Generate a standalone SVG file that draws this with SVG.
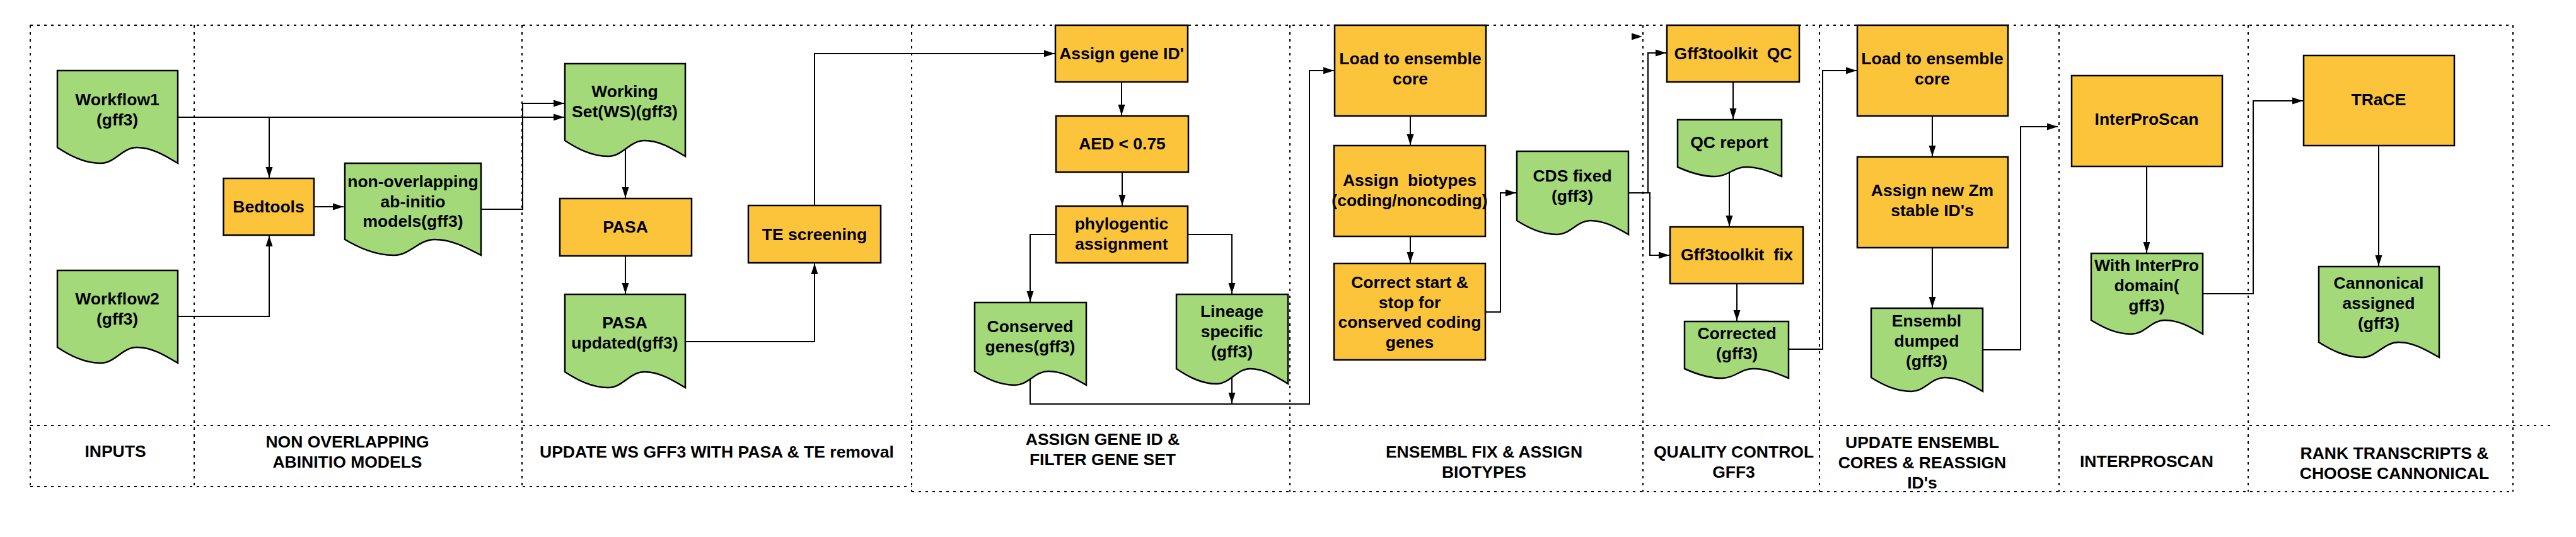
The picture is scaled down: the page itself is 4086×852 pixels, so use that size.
<svg xmlns="http://www.w3.org/2000/svg" width="4086" height="852" viewBox="0 0 4086 852">
<style>
.lane{fill:none;stroke:#000;stroke-width:2;stroke-dasharray:4 7}
.proc{fill:#FCC43A;stroke:#000;stroke-width:2.5}
.doc{fill:#A3D978;stroke:#000;stroke-width:2.5}
.t{font-family:"Liberation Sans",Arial,sans-serif;font-weight:bold;font-size:26.5px;text-anchor:middle;fill:#000}
.c{fill:none;stroke:#000;stroke-width:2}
.c.a{marker-end:url(#arr)}
.ah{fill:#000}
</style>
<defs>
<marker id="arr" markerUnits="userSpaceOnUse" markerWidth="18" markerHeight="12" refX="17" refY="6" orient="auto"><path d="M0,0.5 L17,6 L0,11.5 Z" fill="#000"/></marker>
</defs>
<rect width="4086" height="852" fill="#fff"/>
<g id="lanes">
<path class="lane" d="M48,40 H3986 M48,772 H1446 M1446,780 H3986 M48,675 H4046"/>
<path class="lane" d="M48,40 V772 M308,40 V772 M828,40 V772 M1446,40 V780 M2046,40 V780 M2606,40 V780 M2886,40 V780 M3266,40 V780 M3566,40 V780 M3986,40 V780"/>
<text class="t" x="183" y="725">INPUTS</text>
<text class="t" x="551" y="710">NON OVERLAPPING<tspan x="551" dy="32">ABINITIO MODELS</tspan></text>
<text class="t" x="1137" y="726">UPDATE WS GFF3 WITH PASA &amp; TE removal</text>
<text class="t" x="1749" y="706">ASSIGN GENE ID &amp;<tspan x="1749" dy="32">FILTER GENE SET</tspan></text>
<text class="t" x="2354" y="726">ENSEMBL FIX &amp; ASSIGN<tspan x="2354" dy="32">BIOTYPES</tspan></text>
<text class="t" x="2750" y="726">QUALITY CONTROL<tspan x="2750" dy="32">GFF3</tspan></text>
<text class="t" x="3049" y="711">UPDATE ENSEMBL<tspan x="3049" dy="32">CORES &amp; REASSIGN</tspan><tspan x="3049" dy="32">ID's</tspan></text>
<text class="t" x="3405" y="741">INTERPROSCAN</text>
<text class="t" x="3798" y="728">RANK TRANSCRIPTS &amp;<tspan x="3798" dy="32">CHOOSE CANNONICAL</tspan></text>
</g>
<g id="connectors">
<path class="c a" d="M282,186 H427 V282"/>
<path class="c a" d="M282,186 H895"/>
<path class="c a" d="M282,502 H427 V374"/>
<path class="c a" d="M498,328 H545"/>
<path class="c a" d="M763,332 H829 V164 H895"/>
<path class="c a" d="M992,236 V314"/>
<path class="c a" d="M992,406 V466"/>
<path class="c a" d="M1087,542 H1292 V418"/>
<path class="c a" d="M1292,326 V85 H1673"/>
<path class="c a" d="M1779,130 V183"/>
<path class="c a" d="M1780,273 V326"/>
<path class="c a" d="M1675,372 H1634 V479"/>
<path class="c a" d="M1884,372 H1954 V466"/>
<polygon class="ah" points="1867,366 1884,372 1867,378"/>
<path class="c" d="M1634,600 V641 H2077 V112 H2116"/>
<path class="c a" d="M1954,598 V640"/>
<path class="c a" d="M2077,112 H2116"/>
<path class="c a" d="M2237,184 V230"/>
<path class="c a" d="M2237,375 V417"/>
<path class="c a" d="M2356,495 H2380 V306 H2405"/>
<path class="c a" d="M2583,306 H2614 V84 H2643"/>
<path class="c a" d="M2583,306 H2617 V405 H2648"/>
<polygon class="ah" points="2588,52.5 2605,58 2588,63.5"/>
<path class="c a" d="M2749,130 V189"/>
<path class="c a" d="M2743,273 V359"/>
<path class="c a" d="M2755,450 V509"/>
<path class="c a" d="M2837,554 H2891 V112 H2945"/>
<path class="c a" d="M3065,184 V248"/>
<path class="c a" d="M3065,393 V488"/>
<path class="c a" d="M3145,555 H3205 V201 H3264"/>
<path class="c a" d="M3405,264 V401"/>
<path class="c a" d="M3494,466 H3574 V160 H3653"/>
<path class="c a" d="M3773,231 V422"/>
</g>
<g id="workflow1"><path class="doc" d="M91,112 H282 V259 C259.1,245.3 240,234 217.1,234 C194.1,234 182.7,259 159.8,259 C133,259 110.1,246.5 91,234 Z"/><text class="t" x="186" y="167">Workflow1<tspan x="186" dy="32">(gff3)</tspan></text></g>
<g id="workflow2"><path class="doc" d="M91,429 H282 V576 C259.1,562.3 240,551 217.1,551 C194.1,551 182.7,576 159.8,576 C133,576 110.1,563.5 91,551 Z"/><text class="t" x="186" y="483">Workflow2<tspan x="186" dy="32">(gff3)</tspan></text></g>
<g id="bedtools"><rect class="proc" x="354.5" y="283" width="143.5" height="90"/><text class="t" x="426" y="337">Bedtools</text></g>
<g id="nonoverlap"><path class="doc" d="M547,259 H763 V405 C737.1,391.3 715.5,380 689.6,380 C663.6,380 650.7,405 624.8,405 C594.5,405 568.6,392.5 547,380 Z"/><text class="t" x="655" y="297">non-overlapping<tspan x="655" dy="31.5">ab-initio</tspan><tspan x="655" dy="31.5">models(gff3)</tspan></text></g>
<g id="workingset"><path class="doc" d="M896,101 H1087 V248 C1064.1,234.3 1045,223 1022.1,223 C999.1,223 987.7,248 964.8,248 C938,248 915.1,235.5 896,223 Z"/><text class="t" x="991" y="154">Working<tspan x="991" dy="32">Set(WS)(gff3)</tspan></text></g>
<g id="pasa"><rect class="proc" x="888" y="315" width="209" height="91"/><text class="t" x="992" y="369">PASA</text></g>
<g id="pasaupdated"><path class="doc" d="M896,467 H1087 V615 C1064.1,601.3 1045,590 1022.1,590 C999.1,590 987.7,615 964.8,615 C938,615 915.1,602.5 896,590 Z"/><text class="t" x="991" y="521">PASA<tspan x="991" dy="32">updated(gff3)</tspan></text></g>
<g id="tescreening"><rect class="proc" x="1187" y="326" width="210" height="91"/><text class="t" x="1292" y="381">TE screening</text></g>
<g id="assigngeneid"><rect class="proc" x="1674" y="40" width="210" height="90"/><text class="t" x="1779" y="94">Assign gene ID'</text></g>
<g id="aed"><rect class="proc" x="1675" y="184" width="210" height="89"/><text class="t" x="1780" y="237">AED &lt; 0.75</text></g>
<g id="phylo"><rect class="proc" x="1675" y="327" width="209" height="90"/><text class="t" x="1779" y="364">phylogentic<tspan x="1779" dy="32">assignment</tspan></text></g>
<g id="conserved"><path class="doc" d="M1546,480 H1723 V611 C1701.8,598.9 1684.1,589 1662.8,589 C1641.6,589 1631,611 1609.7,611 C1584.9,611 1563.7,600 1546,589 Z"/><text class="t" x="1634" y="527">Conserved<tspan x="1634" dy="32">genes(gff3)</tspan></text></g>
<g id="lineage"><path class="doc" d="M1866,467 H2043 V609 C2021.8,595.8 2004.1,585 1982.8,585 C1961.6,585 1951,609 1929.7,609 C1904.9,609 1883.7,597 1866,585 Z"/><text class="t" x="1954" y="503">Lineage<tspan x="1954" dy="32">specific</tspan><tspan x="1954" dy="32">(gff3)</tspan></text></g>
<g id="loadcore1"><rect class="proc" x="2117" y="40" width="240" height="144"/><text class="t" x="2237" y="102">Load to ensemble<tspan x="2237" dy="32">core</tspan></text></g>
<g id="biotypes"><rect class="proc" x="2116" y="231" width="240" height="144"/><text class="t" x="2236" y="295" xml:space="preserve">Assign  biotypes<tspan x="2236" dy="32">(coding/noncoding)</tspan></text></g>
<g id="correctstart"><rect class="proc" x="2116" y="418" width="240" height="153"/><text class="t" x="2236" y="457">Correct start &amp;<tspan x="2236" dy="31.7">stop for</tspan><tspan x="2236" dy="31.7">conserved coding</tspan><tspan x="2236" dy="31.7">genes</tspan></text></g>
<g id="cdsfixed"><path class="doc" d="M2406,240 H2583 V372 C2561.8,359.9 2544.1,350 2522.8,350 C2501.6,350 2491,372 2469.7,372 C2444.9,372 2423.7,361 2406,350 Z"/><text class="t" x="2494" y="288">CDS fixed<tspan x="2494" dy="32">(gff3)</tspan></text></g>
<g id="gff3qc"><rect class="proc" x="2644" y="40" width="210" height="90"/><text class="t" x="2749" y="94" xml:space="preserve">Gff3toolkit  QC</text></g>
<g id="qcreport"><path class="doc" d="M2661,190 H2826 V280 C2806.2,271.8 2789.7,265 2769.9,265 C2750.1,265 2740.2,280 2720.4,280 C2697.3,280 2677.5,272.5 2661,265 Z"/><text class="t" x="2743" y="235">QC report</text></g>
<g id="gff3fix"><rect class="proc" x="2649" y="360" width="211" height="90"/><text class="t" x="2755" y="413" xml:space="preserve">Gff3toolkit  fix</text></g>
<g id="corrected"><path class="doc" d="M2672,510 H2837 V600 C2817.2,591.8 2800.7,585 2780.9,585 C2761.1,585 2751.2,600 2731.4,600 C2708.3,600 2688.5,592.5 2672,585 Z"/><text class="t" x="2755" y="538">Corrected<tspan x="2755" dy="32">(gff3)</tspan></text></g>
<g id="loadcore2"><rect class="proc" x="2946" y="40" width="239" height="144"/><text class="t" x="3065" y="102">Load to ensemble<tspan x="3065" dy="32">core</tspan></text></g>
<g id="assignzm"><rect class="proc" x="2946" y="249" width="239" height="144"/><text class="t" x="3065" y="311">Assign new Zm<tspan x="3065" dy="32">stable ID's</tspan></text></g>
<g id="ensembldumped"><path class="doc" d="M2968,489 H3145 V621 C3123.8,608.9 3106.1,599 3084.8,599 C3063.6,599 3053,621 3031.7,621 C3006.9,621 2985.7,610 2968,599 Z"/><text class="t" x="3056" y="518">Ensembl<tspan x="3056" dy="32">dumped</tspan><tspan x="3056" dy="32">(gff3)</tspan></text></g>
<g id="interproscan"><rect class="proc" x="3286" y="120" width="239" height="144"/><text class="t" x="3405" y="198">InterProScan</text></g>
<g id="withinterpro"><path class="doc" d="M3317,402 H3494 V530 C3472.8,517.9 3455.1,508 3433.8,508 C3412.6,508 3402,530 3380.7,530 C3355.9,530 3334.7,519 3317,508 Z"/><text class="t" x="3405" y="430">With InterPro<tspan x="3405" dy="32">domain(</tspan><tspan x="3405" dy="32">gff3)</tspan></text></g>
<g id="trace"><rect class="proc" x="3654" y="88" width="239" height="143"/><text class="t" x="3773" y="167">TRaCE</text></g>
<g id="cannonical"><path class="doc" d="M3678,423 H3869 V567 C3846.1,553.8 3827,543 3804.1,543 C3781.1,543 3769.7,567 3746.8,567 C3720,567 3697.1,555 3678,543 Z"/><text class="t" x="3773" y="458">Cannonical<tspan x="3773" dy="32">assigned</tspan><tspan x="3773" dy="32">(gff3)</tspan></text></g>
</svg>
